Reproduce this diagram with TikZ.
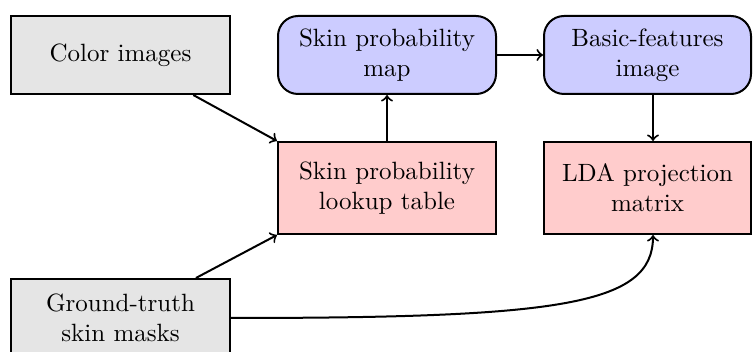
\documentclass[tikz,border=0pt]{standalone}
\begin{document}
\begin{tikzpicture}[x=0.4pt,y=-0.4pt,
  box/.style={draw, thick, align=center, inner sep=0pt, minimum height=31.2pt},
  graybox/.style={box, fill=gray!20, minimum width=87.6pt},
  bluebox/.style={box, fill=blue!20, rounded corners=8pt, minimum width=87.2pt},
  redbox/.style={box, fill=red!20, minimum height=36.8pt, minimum width=87.2pt},
  arr/.style={->, thick}]
\useasboundingbox (0,0) rectangle (753,352);
\node[graybox] (color) at (120.5,55) {Color images};
\node[graybox] (gt) at (120.5,318) {Ground-truth\\skin masks};
\node[bluebox] (map) at (387,55) {Skin probability\\map};
\node[redbox] (lut) at (387,188) {Skin probability\\lookup table};
\node[bluebox, minimum width=82.8pt] (basic) at (647.5,55) {Basic-features\\image};
\node[redbox, minimum width=82.8pt] (lda) at (647.5,188) {LDA projection\\matrix};
\draw[arr] (color) -- (lut.north west);
\draw[arr] (gt) -- (lut.south west);
\draw[arr] (lut) -- (map);
\draw[arr] (map) -- (basic);
\draw[arr] ([xshift=2.2pt]basic.south) -- ([xshift=2.2pt]lda.north);
\draw[arr] (gt.east) .. controls +(330,0) and +(0,70) .. ([xshift=2.2pt]lda.south);
\end{tikzpicture}
\end{document}
